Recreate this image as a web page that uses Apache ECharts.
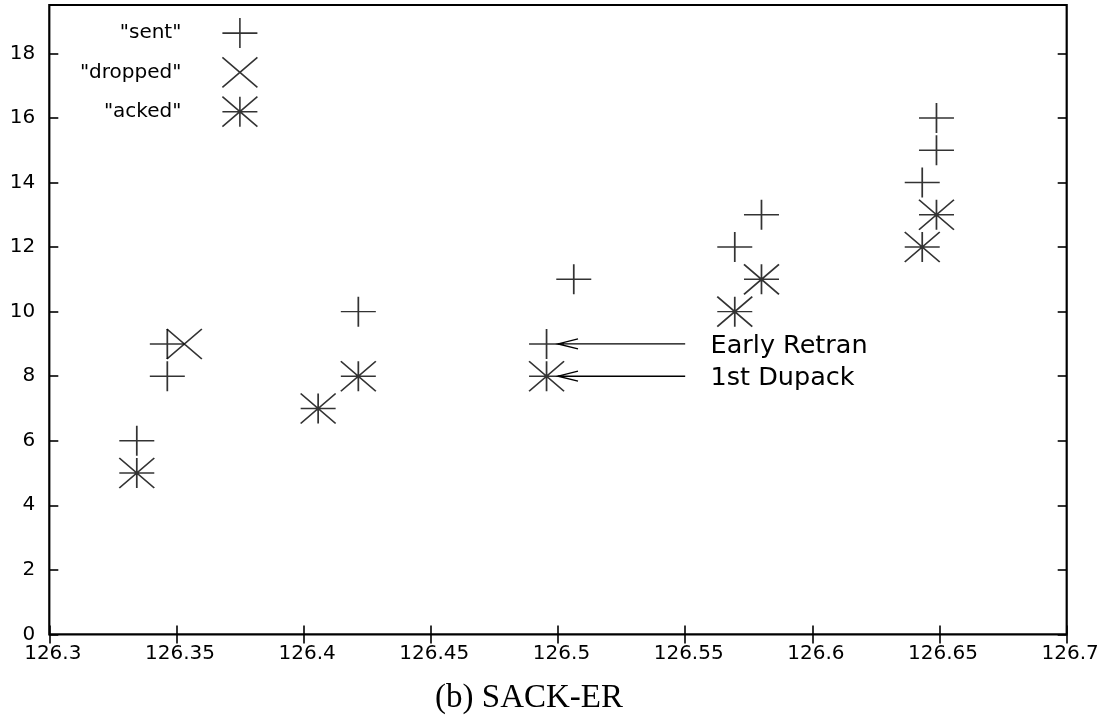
<!DOCTYPE html>
<html>
<head>
<meta charset="utf-8">
<title>SACK-ER</title>
<script src="https://cdn.jsdelivr.net/npm/echarts@6/dist/echarts.min.js"></script>
<style>
  html, body { margin: 0; padding: 0; background: #fff; }
  #chart { width: 1105px; height: 719px; }
</style>
</head>
<body>
<div id="chart"></div>
<script>
// Packet events: time (s) vs. sequence number
const sentX    = [126.3344, 126.3464, 126.3464, 126.4215, 126.4955, 126.5062, 126.5695, 126.5800, 126.6432, 126.6488, 126.6488];
const sentY    = [6, 8, 9, 10, 9, 11, 12, 13, 14, 15, 16];
const droppedX = [126.3531];
const droppedY = [9];
const ackedX   = [126.3344, 126.4057, 126.4215, 126.4955, 126.5695, 126.5800, 126.6432, 126.6488];
const ackedY   = [5, 7, 8, 8, 10, 11, 12, 13];

// Annotated arrows
const noteText  = ['Early Retran', '1st Dupack'];
const noteFromX = [126.55, 126.55];
const noteToX   = [126.5, 126.5];
const noteY     = [9, 8];
const noteTextX = [126.56, 126.56];

// Axis ticks
const xTicks = [126.3, 126.35, 126.4, 126.45, 126.5, 126.55, 126.6, 126.65, 126.7];
const yTicks = [0, 2, 4, 6, 8, 10, 12, 14, 16, 18];
const yMax = 19.5;

const caption = '(b) SACK-ER';

const SANS = '"DejaVu Sans", sans-serif';
const plusPath  = 'path://M0,15L35,15M17.5,0L17.5,30';
const crossPath = 'path://M0,0L35,30M35,0L0,30';
const starPath  = 'path://M0,15L35,15M17.5,0L17.5,30M0,0L35,30M35,0L0,30';

const zip = (xs, ys) => xs.map((x, i) => [x, ys[i]]);
const xStep = +(xTicks[1] - xTicks[0]).toFixed(6);
const yStep = yTicks[1] - yTicks[0];
const fmtX = v => String(+(+v).toFixed(2));

const markerStyle = { color: 'rgba(0,0,0,0)', borderColor: '#000', borderWidth: 1.6 };

function scatter(name, symbol, data) {
  return {
    name, type: 'scatter', symbol, symbolSize: [35, 30], symbolKeepAspect: false,
    xAxisIndex: 0, yAxisIndex: 0,
    itemStyle: markerStyle, data, z: 3,
    emphasis: { disabled: true }
  };
}

const axisCommon = {
  type: 'value', splitLine: { show: false },
  axisLine: { show: false },
  axisTick: { show: true, inside: true, length: 9, lineStyle: { color: '#000', width: 1.6 } }
};

const notes = noteText.map((t, i) => [noteFromX[i], noteY[i], noteToX[i], noteTextX[i]]);

const option = {
  animation: false,
  backgroundColor: '#fff',
  grid: { left: 49.3, right: 38.3, top: 5, bottom: 84.6, show: true, borderColor: '#000', borderWidth: 2.2, backgroundColor: 'transparent' },
  xAxis: [
    Object.assign({}, axisCommon, {
      position: 'bottom', min: xTicks[0], max: xTicks[xTicks.length - 1], interval: xStep,
      axisLabel: { color: '#000', fontFamily: SANS, fontSize: 20, margin: 9, padding: [0, 0, 0, 7], formatter: fmtX }
    }),
    Object.assign({}, axisCommon, {
      position: 'top', min: xTicks[0], max: xTicks[xTicks.length - 1], interval: xStep,
      axisLabel: { show: false }
    })
  ],
  yAxis: [
    Object.assign({}, axisCommon, {
      position: 'left', min: yTicks[0], max: yMax, interval: yStep,
      axisLabel: { color: '#000', fontFamily: SANS, fontSize: 20, margin: 14, showMaxLabel: false,
        formatter: v => (yTicks.indexOf(v) >= 0 ? String(v) : '') }
    }),
    Object.assign({}, axisCommon, {
      position: 'right', min: yTicks[0], max: yMax, interval: yStep,
      axisLabel: { show: false }
    })
  ],
  legend: {
    data: ['"sent"', '"dropped"', '"acked"'],
    orient: 'vertical', align: 'right',
    right: 846.8, top: 17.3, padding: 0,
    itemWidth: 35, itemHeight: 30, itemGap: 7.7,
    selectedMode: false,
    itemStyle: { borderWidth: 1.6, borderColor: '#000', color: 'rgba(0,0,0,0)' },
    textStyle: { color: '#000', fontFamily: SANS, fontSize: 20, padding: [0, 36, 0, 0] }
  },
  series: [
    scatter('"sent"', plusPath, zip(sentX, sentY)),
    scatter('"dropped"', crossPath, zip(droppedX, droppedY)),
    scatter('"acked"', starPath, zip(ackedX, ackedY)),
    {
      type: 'custom', name: 'notes', xAxisIndex: 0, yAxisIndex: 0,
      encode: { x: [0, 2, 3], y: 1 },
      data: notes, z: 4, silent: true,
      renderItem: function (params, api) {
        const y = api.value(1);
        const p0 = api.coord([api.value(0), y]);
        const p1 = api.coord([api.value(2), y]);
        const pt = api.coord([api.value(3), y]);
        const dx = p0[0] - p1[0], dy = p0[1] - p1[1];
        const len = Math.hypot(dx, dy) || 1;
        const ux = dx / len, uy = dy / len;
        const headLen = 20, headHalf = 5;
        const bx = p1[0] + ux * headLen, by = p1[1] + uy * headLen;
        return {
          type: 'group',
          children: [
            { type: 'line', shape: { x1: p0[0], y1: p0[1], x2: p1[0], y2: p1[1] },
              style: { stroke: '#000', lineWidth: 1.4 } },
            { type: 'polyline',
              shape: { points: [[bx - uy * headHalf, by + ux * headHalf], [p1[0], p1[1]], [bx + uy * headHalf, by - ux * headHalf]] },
              style: { stroke: '#000', fill: null, lineWidth: 1.4 } },
            { type: 'text', x: pt[0], y: pt[1] + 2,
              style: { text: noteText[params.dataIndex], fill: '#000', font: '25.5px ' + SANS, align: 'left', verticalAlign: 'middle' } }
          ]
        };
      }
    }
  ],
  graphic: [
    { type: 'text', x: 529, y: 698,
      style: { text: caption, fill: '#000', font: '33px "Liberation Serif", serif', align: 'center', verticalAlign: 'middle' } }
  ]
};

const chart = echarts.init(document.getElementById('chart'), null, { renderer: 'canvas' });
chart.setOption(option);
</script>
</body>
</html>
